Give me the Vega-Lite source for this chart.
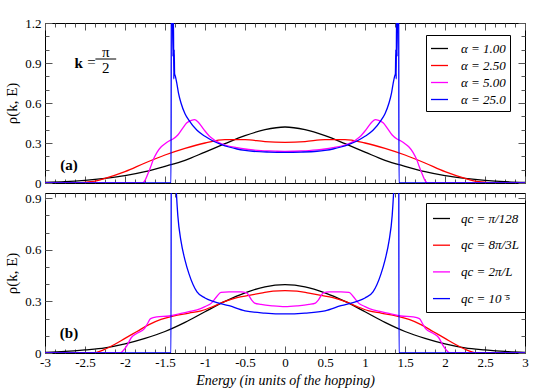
{
"$schema": "https://vega.github.io/schema/vega-lite/v6.json",
"padding": {"left": 4, "top": 16, "right": 12, "bottom": 2},
"bounds": "flush",
"config": {
 "font": "Liberation Serif, Times New Roman, serif",
 "view": {"stroke": "#000", "strokeWidth": 1},
 "axis": {"labelFont": "Liberation Serif, Times New Roman, serif", "labelFontSize": 13, "labelColor": "#000", "tickColor": "#555", "domain": false, "grid": false, "titleFont": "Liberation Serif, Times New Roman, serif", "titleFontWeight": "normal", "titleColor": "#000", "labelOverlap": false, "labelFlush": false, "labelBound": false},
 "legend": {"labelFont": "Liberation Serif, Times New Roman, serif", "labelFontSize": 13, "labelFontStyle": "italic", "labelColor": "#000", "symbolType": "stroke", "symbolStrokeWidth": 1.5, "symbolSize": 289, "strokeColor": "#000", "fillColor": "#fff", "labelOffset": 12},
 "text": {"font": "Liberation Serif, Times New Roman, serif"},
 "line": {"strokeWidth": 1.3, "interpolate": "monotone", "clip": true}
},
"datasets": {
 "top": [
  {"s":"α = 1.00","E":-3,"v":0.005},{"s":"α = 1.00","E":-2.75,"v":0.01},{"s":"α = 1.00","E":-2.5,"v":0.02},{"s":"α = 1.00","E":-2.25,"v":0.035},{"s":"α = 1.00","E":-2,"v":0.055},{"s":"α = 1.00","E":-1.75,"v":0.085},{"s":"α = 1.00","E":-1.5,"v":0.125},{"s":"α = 1.00","E":-1.25,"v":0.17},{"s":"α = 1.00","E":-1,"v":0.232},{"s":"α = 1.00","E":-0.75,"v":0.295},{"s":"α = 1.00","E":-0.5,"v":0.355},{"s":"α = 1.00","E":-0.25,"v":0.4},{"s":"α = 1.00","E":0,"v":0.42},{"s":"α = 1.00","E":0.25,"v":0.4},{"s":"α = 1.00","E":0.5,"v":0.355},{"s":"α = 1.00","E":0.75,"v":0.295},{"s":"α = 1.00","E":1,"v":0.232},{"s":"α = 1.00","E":1.25,"v":0.17},{"s":"α = 1.00","E":1.5,"v":0.125},{"s":"α = 1.00","E":1.75,"v":0.085},{"s":"α = 1.00","E":2,"v":0.055},{"s":"α = 1.00","E":2.25,"v":0.035},{"s":"α = 1.00","E":2.5,"v":0.02},{"s":"α = 1.00","E":2.75,"v":0.01},{"s":"α = 1.00","E":3,"v":0.005},
  {"s":"α = 2.50","E":-3,"v":0},{"s":"α = 2.50","E":-2.7,"v":0},{"s":"α = 2.50","E":-2.55,"v":0.003},{"s":"α = 2.50","E":-2.4,"v":0.012},{"s":"α = 2.50","E":-2.25,"v":0.035},{"s":"α = 2.50","E":-2,"v":0.085},{"s":"α = 2.50","E":-1.75,"v":0.15},{"s":"α = 2.50","E":-1.5,"v":0.21},{"s":"α = 2.50","E":-1.25,"v":0.26},{"s":"α = 2.50","E":-1,"v":0.3},{"s":"α = 2.50","E":-0.75,"v":0.325},{"s":"α = 2.50","E":-0.5,"v":0.325},{"s":"α = 2.50","E":-0.25,"v":0.31},{"s":"α = 2.50","E":0,"v":0.305},{"s":"α = 2.50","E":0.25,"v":0.31},{"s":"α = 2.50","E":0.5,"v":0.325},{"s":"α = 2.50","E":0.75,"v":0.325},{"s":"α = 2.50","E":1,"v":0.3},{"s":"α = 2.50","E":1.25,"v":0.26},{"s":"α = 2.50","E":1.5,"v":0.21},{"s":"α = 2.50","E":1.75,"v":0.15},{"s":"α = 2.50","E":2,"v":0.085},{"s":"α = 2.50","E":2.25,"v":0.035},{"s":"α = 2.50","E":2.4,"v":0.012},{"s":"α = 2.50","E":2.55,"v":0.003},{"s":"α = 2.50","E":2.7,"v":0},{"s":"α = 2.50","E":3,"v":0},
  {"s":"α = 5.00","E":-3,"v":0},{"s":"α = 5.00","E":-1.78,"v":0},{"s":"α = 5.00","E":-1.75,"v":0.02},{"s":"α = 5.00","E":-1.72,"v":0.06},{"s":"α = 5.00","E":-1.68,"v":0.12},{"s":"α = 5.00","E":-1.65,"v":0.17},{"s":"α = 5.00","E":-1.6,"v":0.23},{"s":"α = 5.00","E":-1.55,"v":0.27},{"s":"α = 5.00","E":-1.5,"v":0.295},{"s":"α = 5.00","E":-1.45,"v":0.315},{"s":"α = 5.00","E":-1.4,"v":0.33},{"s":"α = 5.00","E":-1.34,"v":0.36},{"s":"α = 5.00","E":-1.28,"v":0.41},{"s":"α = 5.00","E":-1.23,"v":0.45},{"s":"α = 5.00","E":-1.17,"v":0.47},{"s":"α = 5.00","E":-1.13,"v":0.475},{"s":"α = 5.00","E":-1.09,"v":0.46},{"s":"α = 5.00","E":-1.05,"v":0.43},{"s":"α = 5.00","E":-1,"v":0.39},{"s":"α = 5.00","E":-0.95,"v":0.355},{"s":"α = 5.00","E":-0.9,"v":0.33},{"s":"α = 5.00","E":-0.85,"v":0.31},{"s":"α = 5.00","E":-0.8,"v":0.295},{"s":"α = 5.00","E":-0.75,"v":0.285},{"s":"α = 5.00","E":-0.6,"v":0.265},{"s":"α = 5.00","E":-0.5,"v":0.255},{"s":"α = 5.00","E":-0.4,"v":0.248},{"s":"α = 5.00","E":-0.3,"v":0.243},{"s":"α = 5.00","E":-0.2,"v":0.24},{"s":"α = 5.00","E":-0.1,"v":0.238},{"s":"α = 5.00","E":0,"v":0.237},{"s":"α = 5.00","E":0.1,"v":0.238},{"s":"α = 5.00","E":0.2,"v":0.24},{"s":"α = 5.00","E":0.3,"v":0.243},{"s":"α = 5.00","E":0.4,"v":0.248},{"s":"α = 5.00","E":0.5,"v":0.255},{"s":"α = 5.00","E":0.6,"v":0.265},{"s":"α = 5.00","E":0.75,"v":0.285},{"s":"α = 5.00","E":0.8,"v":0.295},{"s":"α = 5.00","E":0.85,"v":0.31},{"s":"α = 5.00","E":0.9,"v":0.33},{"s":"α = 5.00","E":0.95,"v":0.355},{"s":"α = 5.00","E":1,"v":0.39},{"s":"α = 5.00","E":1.05,"v":0.43},{"s":"α = 5.00","E":1.09,"v":0.46},{"s":"α = 5.00","E":1.13,"v":0.475},{"s":"α = 5.00","E":1.17,"v":0.47},{"s":"α = 5.00","E":1.23,"v":0.45},{"s":"α = 5.00","E":1.28,"v":0.41},{"s":"α = 5.00","E":1.34,"v":0.36},{"s":"α = 5.00","E":1.4,"v":0.33},{"s":"α = 5.00","E":1.45,"v":0.315},{"s":"α = 5.00","E":1.5,"v":0.295},{"s":"α = 5.00","E":1.55,"v":0.27},{"s":"α = 5.00","E":1.6,"v":0.23},{"s":"α = 5.00","E":1.65,"v":0.17},{"s":"α = 5.00","E":1.68,"v":0.12},{"s":"α = 5.00","E":1.72,"v":0.06},{"s":"α = 5.00","E":1.75,"v":0.02},{"s":"α = 5.00","E":1.78,"v":0},{"s":"α = 5.00","E":3,"v":0},
  {"s":"α = 25.0","E":-3,"v":0},{"s":"α = 25.0","E":-1.425,"v":0},{"s":"α = 25.0","E":-1.42,"v":1.6},{"s":"α = 25.0","E":-1.41,"v":1.45},{"s":"α = 25.0","E":-1.4,"v":0.95},{"s":"α = 25.0","E":-1.395,"v":1.3},{"s":"α = 25.0","E":-1.39,"v":0.78},{"s":"α = 25.0","E":-1.385,"v":1.0},{"s":"α = 25.0","E":-1.38,"v":0.82},{"s":"α = 25.0","E":-1.37,"v":0.8},{"s":"α = 25.0","E":-1.35,"v":0.74},{"s":"α = 25.0","E":-1.33,"v":0.67},{"s":"α = 25.0","E":-1.3,"v":0.6},{"s":"α = 25.0","E":-1.25,"v":0.52},{"s":"α = 25.0","E":-1.2,"v":0.47},{"s":"α = 25.0","E":-1.1,"v":0.395},{"s":"α = 25.0","E":-1,"v":0.35},{"s":"α = 25.0","E":-0.9,"v":0.315},{"s":"α = 25.0","E":-0.8,"v":0.29},{"s":"α = 25.0","E":-0.7,"v":0.27},{"s":"α = 25.0","E":-0.6,"v":0.255},{"s":"α = 25.0","E":-0.5,"v":0.245},{"s":"α = 25.0","E":-0.4,"v":0.238},{"s":"α = 25.0","E":-0.2,"v":0.232},{"s":"α = 25.0","E":0,"v":0.23},{"s":"α = 25.0","E":0.2,"v":0.232},{"s":"α = 25.0","E":0.4,"v":0.238},{"s":"α = 25.0","E":0.5,"v":0.245},{"s":"α = 25.0","E":0.6,"v":0.255},{"s":"α = 25.0","E":0.7,"v":0.27},{"s":"α = 25.0","E":0.8,"v":0.29},{"s":"α = 25.0","E":0.9,"v":0.315},{"s":"α = 25.0","E":1,"v":0.35},{"s":"α = 25.0","E":1.1,"v":0.395},{"s":"α = 25.0","E":1.2,"v":0.47},{"s":"α = 25.0","E":1.25,"v":0.52},{"s":"α = 25.0","E":1.3,"v":0.6},{"s":"α = 25.0","E":1.33,"v":0.67},{"s":"α = 25.0","E":1.35,"v":0.74},{"s":"α = 25.0","E":1.37,"v":0.8},{"s":"α = 25.0","E":1.38,"v":0.82},{"s":"α = 25.0","E":1.385,"v":1.0},{"s":"α = 25.0","E":1.39,"v":0.78},{"s":"α = 25.0","E":1.395,"v":1.3},{"s":"α = 25.0","E":1.4,"v":0.95},{"s":"α = 25.0","E":1.41,"v":1.45},{"s":"α = 25.0","E":1.42,"v":1.6},{"s":"α = 25.0","E":1.425,"v":0},{"s":"α = 25.0","E":3,"v":0}
 ],
 "bot": [
  {"s":"qc = π/128","E":-3,"v":0.004},{"s":"qc = π/128","E":-2.75,"v":0.009},{"s":"qc = π/128","E":-2.5,"v":0.018},{"s":"qc = π/128","E":-2.25,"v":0.03},{"s":"qc = π/128","E":-2,"v":0.053},{"s":"qc = π/128","E":-1.75,"v":0.085},{"s":"qc = π/128","E":-1.5,"v":0.125},{"s":"qc = π/128","E":-1.25,"v":0.178},{"s":"qc = π/128","E":-1,"v":0.24},{"s":"qc = π/128","E":-0.75,"v":0.3},{"s":"qc = π/128","E":-0.5,"v":0.35},{"s":"qc = π/128","E":-0.25,"v":0.385},{"s":"qc = π/128","E":0,"v":0.397},{"s":"qc = π/128","E":0.25,"v":0.385},{"s":"qc = π/128","E":0.5,"v":0.35},{"s":"qc = π/128","E":0.75,"v":0.3},{"s":"qc = π/128","E":1,"v":0.24},{"s":"qc = π/128","E":1.25,"v":0.178},{"s":"qc = π/128","E":1.5,"v":0.125},{"s":"qc = π/128","E":1.75,"v":0.085},{"s":"qc = π/128","E":2,"v":0.053},{"s":"qc = π/128","E":2.25,"v":0.03},{"s":"qc = π/128","E":2.5,"v":0.018},{"s":"qc = π/128","E":2.75,"v":0.009},{"s":"qc = π/128","E":3,"v":0.004},
  {"s":"qc = 8π/3L","E":-3,"v":0},{"s":"qc = 8π/3L","E":-2.4,"v":0},{"s":"qc = 8π/3L","E":-2.3,"v":0.012},{"s":"qc = 8π/3L","E":-2.15,"v":0.045},{"s":"qc = 8π/3L","E":-2,"v":0.085},{"s":"qc = 8π/3L","E":-1.85,"v":0.125},{"s":"qc = 8π/3L","E":-1.7,"v":0.165},{"s":"qc = 8π/3L","E":-1.55,"v":0.195},{"s":"qc = 8π/3L","E":-1.4,"v":0.215},{"s":"qc = 8π/3L","E":-1.2,"v":0.232},{"s":"qc = 8π/3L","E":-1.05,"v":0.245},{"s":"qc = 8π/3L","E":-0.9,"v":0.27},{"s":"qc = 8π/3L","E":-0.75,"v":0.3},{"s":"qc = 8π/3L","E":-0.6,"v":0.322},{"s":"qc = 8π/3L","E":-0.45,"v":0.335},{"s":"qc = 8π/3L","E":-0.3,"v":0.348},{"s":"qc = 8π/3L","E":-0.15,"v":0.36},{"s":"qc = 8π/3L","E":0,"v":0.362},{"s":"qc = 8π/3L","E":0.15,"v":0.36},{"s":"qc = 8π/3L","E":0.3,"v":0.348},{"s":"qc = 8π/3L","E":0.45,"v":0.335},{"s":"qc = 8π/3L","E":0.6,"v":0.322},{"s":"qc = 8π/3L","E":0.75,"v":0.3},{"s":"qc = 8π/3L","E":0.9,"v":0.27},{"s":"qc = 8π/3L","E":1.05,"v":0.245},{"s":"qc = 8π/3L","E":1.2,"v":0.232},{"s":"qc = 8π/3L","E":1.4,"v":0.215},{"s":"qc = 8π/3L","E":1.55,"v":0.195},{"s":"qc = 8π/3L","E":1.7,"v":0.165},{"s":"qc = 8π/3L","E":1.85,"v":0.125},{"s":"qc = 8π/3L","E":2,"v":0.085},{"s":"qc = 8π/3L","E":2.15,"v":0.045},{"s":"qc = 8π/3L","E":2.3,"v":0.012},{"s":"qc = 8π/3L","E":2.4,"v":0},{"s":"qc = 8π/3L","E":3,"v":0},
  {"s":"qc = 2π/L","E":-3,"v":0},{"s":"qc = 2π/L","E":-2.06,"v":0},{"s":"qc = 2π/L","E":-2.03,"v":0.01},{"s":"qc = 2π/L","E":-1.98,"v":0.04},{"s":"qc = 2π/L","E":-1.92,"v":0.09},{"s":"qc = 2π/L","E":-1.85,"v":0.115},{"s":"qc = 2π/L","E":-1.76,"v":0.14},{"s":"qc = 2π/L","E":-1.72,"v":0.17},{"s":"qc = 2π/L","E":-1.68,"v":0.2},{"s":"qc = 2π/L","E":-1.6,"v":0.21},{"s":"qc = 2π/L","E":-1.45,"v":0.215},{"s":"qc = 2π/L","E":-1.3,"v":0.23},{"s":"qc = 2π/L","E":-1.2,"v":0.24},{"s":"qc = 2π/L","E":-1.1,"v":0.25},{"s":"qc = 2π/L","E":-1,"v":0.27},{"s":"qc = 2π/L","E":-0.92,"v":0.29},{"s":"qc = 2π/L","E":-0.85,"v":0.33},{"s":"qc = 2π/L","E":-0.8,"v":0.352},{"s":"qc = 2π/L","E":-0.7,"v":0.355},{"s":"qc = 2π/L","E":-0.55,"v":0.355},{"s":"qc = 2π/L","E":-0.48,"v":0.35},{"s":"qc = 2π/L","E":-0.42,"v":0.31},{"s":"qc = 2π/L","E":-0.38,"v":0.29},{"s":"qc = 2π/L","E":-0.3,"v":0.282},{"s":"qc = 2π/L","E":-0.15,"v":0.274},{"s":"qc = 2π/L","E":0,"v":0.27},{"s":"qc = 2π/L","E":0.15,"v":0.274},{"s":"qc = 2π/L","E":0.3,"v":0.282},{"s":"qc = 2π/L","E":0.38,"v":0.29},{"s":"qc = 2π/L","E":0.42,"v":0.31},{"s":"qc = 2π/L","E":0.48,"v":0.35},{"s":"qc = 2π/L","E":0.55,"v":0.355},{"s":"qc = 2π/L","E":0.7,"v":0.355},{"s":"qc = 2π/L","E":0.8,"v":0.352},{"s":"qc = 2π/L","E":0.85,"v":0.33},{"s":"qc = 2π/L","E":0.92,"v":0.29},{"s":"qc = 2π/L","E":1,"v":0.27},{"s":"qc = 2π/L","E":1.1,"v":0.25},{"s":"qc = 2π/L","E":1.2,"v":0.24},{"s":"qc = 2π/L","E":1.3,"v":0.23},{"s":"qc = 2π/L","E":1.45,"v":0.215},{"s":"qc = 2π/L","E":1.6,"v":0.21},{"s":"qc = 2π/L","E":1.68,"v":0.2},{"s":"qc = 2π/L","E":1.72,"v":0.17},{"s":"qc = 2π/L","E":1.76,"v":0.14},{"s":"qc = 2π/L","E":1.85,"v":0.115},{"s":"qc = 2π/L","E":1.92,"v":0.09},{"s":"qc = 2π/L","E":1.98,"v":0.04},{"s":"qc = 2π/L","E":2.03,"v":0.01},{"s":"qc = 2π/L","E":2.06,"v":0},{"s":"qc = 2π/L","E":3,"v":0},
  {"s":"qc = 10⁻⁵","E":-3,"v":0},{"s":"qc = 10⁻⁵","E":-1.425,"v":0},{"s":"qc = 10⁻⁵","E":-1.42,"v":2.0},{"s":"qc = 10⁻⁵","E":-1.4,"v":1.5},{"s":"qc = 10⁻⁵","E":-1.38,"v":1.15},{"s":"qc = 10⁻⁵","E":-1.36,"v":0.95},{"s":"qc = 10⁻⁵","E":-1.34,"v":0.8},{"s":"qc = 10⁻⁵","E":-1.3,"v":0.65},{"s":"qc = 10⁻⁵","E":-1.25,"v":0.54},{"s":"qc = 10⁻⁵","E":-1.2,"v":0.46},{"s":"qc = 10⁻⁵","E":-1.1,"v":0.355},{"s":"qc = 10⁻⁵","E":-1,"v":0.32},{"s":"qc = 10⁻⁵","E":-0.9,"v":0.3},{"s":"qc = 10⁻⁵","E":-0.7,"v":0.275},{"s":"qc = 10⁻⁵","E":-0.5,"v":0.245},{"s":"qc = 10⁻⁵","E":-0.25,"v":0.232},{"s":"qc = 10⁻⁵","E":0,"v":0.227},{"s":"qc = 10⁻⁵","E":0.25,"v":0.232},{"s":"qc = 10⁻⁵","E":0.5,"v":0.245},{"s":"qc = 10⁻⁵","E":0.7,"v":0.275},{"s":"qc = 10⁻⁵","E":0.9,"v":0.3},{"s":"qc = 10⁻⁵","E":1,"v":0.32},{"s":"qc = 10⁻⁵","E":1.1,"v":0.355},{"s":"qc = 10⁻⁵","E":1.2,"v":0.46},{"s":"qc = 10⁻⁵","E":1.25,"v":0.54},{"s":"qc = 10⁻⁵","E":1.3,"v":0.65},{"s":"qc = 10⁻⁵","E":1.34,"v":0.8},{"s":"qc = 10⁻⁵","E":1.36,"v":0.95},{"s":"qc = 10⁻⁵","E":1.38,"v":1.15},{"s":"qc = 10⁻⁵","E":1.4,"v":1.5},{"s":"qc = 10⁻⁵","E":1.42,"v":2.0},{"s":"qc = 10⁻⁵","E":1.425,"v":0},{"s":"qc = 10⁻⁵","E":3,"v":0}
 ],
 "annAbold": [{"E": -2.58, "v": 0.9, "t": "k"}, {"E": -2.7, "v": 0.135, "t": "(a)"}],
 "annAnorm": [{"E": -2.42, "v": 0.905, "t": "="}, {"E": -2.24, "v": 0.985, "t": "π"}, {"E": -2.24, "v": 0.865, "t": "2"}],
 "annAbar": [{"E": -2.37, "E2": -2.11, "v": 0.93}],
 "annB": [{"E": -2.7, "v": 0.115, "t": "(b)"}]
},
"spacing": 10,
"resolve": {"scale": {"color": "independent"}},
"vconcat": [
 {
  "width": 480, "height": 160,
  "resolve": {"axis": {"x": "independent", "y": "independent"}},
  "layer": [
   {
    "data": {"name": "top"},
    "mark": {"type": "line", "clip": true},
    "encoding": {
     "x": {"field": "E", "type": "quantitative", "scale": {"domain": [-3, 3], "nice": false, "zero": false},
       "axis": {"orient": "bottom", "labels": false, "title": null, "values": [-3,-2.875,-2.75,-2.625,-2.5,-2.375,-2.25,-2.125,-2,-1.875,-1.75,-1.625,-1.5,-1.375,-1.25,-1.125,-1,-0.875,-0.75,-0.625,-0.5,-0.375,-0.25,-0.125,0,0.125,0.25,0.375,0.5,0.625,0.75,0.875,1,1.125,1.25,1.375,1.5,1.625,1.75,1.875,2,2.125,2.25,2.375,2.5,2.625,2.75,2.875,3],
         "tickSize": {"condition": {"test": "abs(round(datum.value*8)) % 4 == 0", "value": -7}, "value": -4}}},
     "y": {"field": "v", "type": "quantitative", "scale": {"domain": [0, 1.2], "nice": false},
       "axis": {"orient": "left", "title": "ρ(k, E)", "titleFontSize": 15, "titlePadding": 5, "labelPadding": 11,
         "values": [0,0.1,0.2,0.3,0.4,0.5,0.6,0.7,0.8,0.9,1.0,1.1,1.2],
         "labelExpr": "abs(round(datum.value*10)) % 3 == 0 ? (datum.value == 0 ? '0' : format(datum.value, '.1f')) : ''",
         "tickSize": {"condition": {"test": "abs(round(datum.value*10)) % 3 == 0", "value": -7}, "value": -4}}},
     "color": {"field": "s", "type": "nominal", "scale": {"domain": ["α = 1.00", "α = 2.50", "α = 5.00", "α = 25.0"], "range": ["#000000", "#ff0000", "#ff00ff", "#0000ff"]},
       "legend": {"title": null, "orient": "none", "legendX": 381, "legendY": 12, "padding": 4, "rowPadding": -3.7}}
    }
   },
   {
    "data": {"name": "annAbold"},
    "mark": {"type": "text", "fontWeight": "bold", "fontSize": 15, "baseline": "middle", "color": "#000"},
    "encoding": {
     "x": {"field": "E", "type": "quantitative", "scale": {"domain": [-3, 3], "nice": false, "zero": false},
       "axis": {"orient": "top", "labels": false, "title": null, "values": [-3,-2.875,-2.75,-2.625,-2.5,-2.375,-2.25,-2.125,-2,-1.875,-1.75,-1.625,-1.5,-1.375,-1.25,-1.125,-1,-0.875,-0.75,-0.625,-0.5,-0.375,-0.25,-0.125,0,0.125,0.25,0.375,0.5,0.625,0.75,0.875,1,1.125,1.25,1.375,1.5,1.625,1.75,1.875,2,2.125,2.25,2.375,2.5,2.625,2.75,2.875,3],
         "tickSize": {"condition": {"test": "abs(round(datum.value*8)) % 4 == 0", "value": -7}, "value": -4}}},
     "y": {"field": "v", "type": "quantitative", "scale": {"domain": [0, 1.2], "nice": false},
       "axis": {"orient": "right", "labels": false, "title": null, "values": [0,0.1,0.2,0.3,0.4,0.5,0.6,0.7,0.8,0.9,1.0,1.1,1.2],
         "tickSize": {"condition": {"test": "abs(round(datum.value*10)) % 3 == 0", "value": -7}, "value": -4}}},
     "text": {"field": "t"}
    }
   },
   {
    "data": {"name": "annAnorm"},
    "mark": {"type": "text", "fontSize": 15, "baseline": "middle", "color": "#000"},
    "encoding": {
     "x": {"field": "E", "type": "quantitative", "scale": {"domain": [-3, 3], "nice": false, "zero": false}, "axis": null},
     "y": {"field": "v", "type": "quantitative", "scale": {"domain": [0, 1.2], "nice": false}, "axis": null},
     "text": {"field": "t"}
    }
   },
   {
    "data": {"name": "annAbar"},
    "mark": {"type": "rule", "color": "#000", "strokeWidth": 1},
    "encoding": {
     "x": {"field": "E", "type": "quantitative", "scale": {"domain": [-3, 3], "nice": false, "zero": false}, "axis": null},
     "x2": {"field": "E2"},
     "y": {"field": "v", "type": "quantitative", "scale": {"domain": [0, 1.2], "nice": false}, "axis": null}
    }
   }
  ]
 },
 {
  "width": 480, "height": 160,
  "resolve": {"axis": {"x": "independent", "y": "independent"}},
  "layer": [
   {
    "data": {"name": "bot"},
    "mark": {"type": "line", "clip": true},
    "encoding": {
     "x": {"field": "E", "type": "quantitative", "scale": {"domain": [-3, 3], "nice": false, "zero": false},
       "axis": {"orient": "bottom", "title": "Energy (in units of the hopping)", "titleFontSize": 14, "titleFontStyle": "italic", "titlePadding": 1, "labelPadding": 10,
         "values": [-3,-2.875,-2.75,-2.625,-2.5,-2.375,-2.25,-2.125,-2,-1.875,-1.75,-1.625,-1.5,-1.375,-1.25,-1.125,-1,-0.875,-0.75,-0.625,-0.5,-0.375,-0.25,-0.125,0,0.125,0.25,0.375,0.5,0.625,0.75,0.875,1,1.125,1.25,1.375,1.5,1.625,1.75,1.875,2,2.125,2.25,2.375,2.5,2.625,2.75,2.875,3],
         "labelExpr": "abs(round(datum.value*8)) % 4 == 0 ? '' + datum.value : ''",
         "tickSize": {"condition": {"test": "abs(round(datum.value*8)) % 4 == 0", "value": -7}, "value": -4}}},
     "y": {"field": "v", "type": "quantitative", "scale": {"domain": [0, 0.93], "nice": false},
       "axis": {"orient": "left", "title": "ρ(k, E)", "titleFontSize": 15, "titlePadding": 5, "labelPadding": 11,
         "values": [0,0.1,0.2,0.3,0.4,0.5,0.6,0.7,0.8,0.9],
         "labelExpr": "abs(round(datum.value*10)) % 3 == 0 ? (datum.value == 0 ? '0' : format(datum.value, '.1f')) : ''",
         "tickSize": {"condition": {"test": "abs(round(datum.value*10)) % 3 == 0", "value": -7}, "value": -4}}},
     "color": {"field": "s", "type": "nominal", "scale": {"domain": ["qc = π/128", "qc = 8π/3L", "qc = 2π/L", "qc = 10⁻⁵"], "range": ["#000000", "#ff0000", "#ff00ff", "#0000ff"]},
       "legend": {"title": null, "orient": "none", "legendX": 381, "legendY": 10, "padding": 6, "rowPadding": 9.7, "labelOffset": 10}}
    }
   },
   {
    "data": {"name": "annB"},
    "mark": {"type": "text", "fontWeight": "bold", "fontSize": 15, "baseline": "middle", "color": "#000"},
    "encoding": {
     "x": {"field": "E", "type": "quantitative", "scale": {"domain": [-3, 3], "nice": false, "zero": false},
       "axis": {"orient": "top", "labels": false, "title": null, "values": [-3,-2.875,-2.75,-2.625,-2.5,-2.375,-2.25,-2.125,-2,-1.875,-1.75,-1.625,-1.5,-1.375,-1.25,-1.125,-1,-0.875,-0.75,-0.625,-0.5,-0.375,-0.25,-0.125,0,0.125,0.25,0.375,0.5,0.625,0.75,0.875,1,1.125,1.25,1.375,1.5,1.625,1.75,1.875,2,2.125,2.25,2.375,2.5,2.625,2.75,2.875,3],
         "tickSize": {"condition": {"test": "abs(round(datum.value*8)) % 4 == 0", "value": -7}, "value": -4}}},
     "y": {"field": "v", "type": "quantitative", "scale": {"domain": [0, 0.93], "nice": false},
       "axis": {"orient": "right", "labels": false, "title": null, "values": [0,0.1,0.2,0.3,0.4,0.5,0.6,0.7,0.8,0.9],
         "tickSize": {"condition": {"test": "abs(round(datum.value*10)) % 3 == 0", "value": -7}, "value": -4}}},
     "text": {"field": "t"}
    }
   }
  ]
 }
]
}
